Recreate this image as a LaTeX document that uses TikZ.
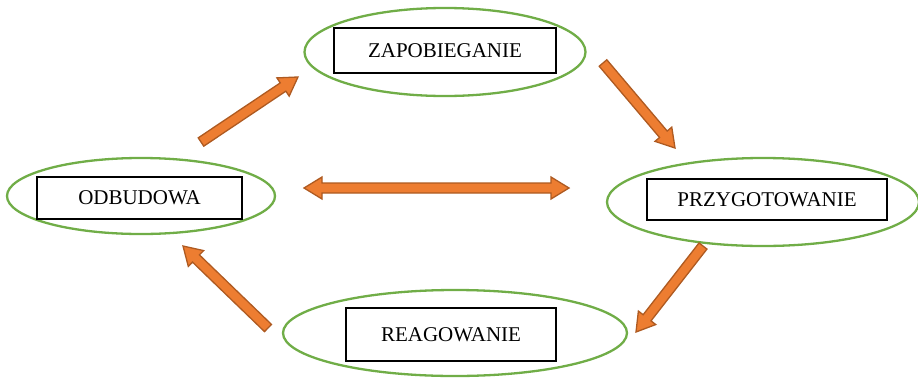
\documentclass[tikz,border=0pt]{standalone}
\usepackage{fontspec}
\setmainfont{Liberation Serif}
\usetikzlibrary{shapes.geometric,calc}
\definecolor{zielony}{HTML}{70AD47}
\definecolor{pomarancz}{HTML}{ED7D31}
\definecolor{brzeg}{HTML}{AE5A21}
\tikzset{
  owal/.style={draw=zielony,line width=2.3pt,ellipse,inner sep=0pt},
  ramka/.style={draw,line width=1.4pt,rectangle,inner sep=0pt,
    font=\fontsize{21}{25}\selectfont,text depth=0pt},
  strzalka/.style={fill=pomarancz,draw=brzeg,line width=1.3pt,line join=miter}
}
% block arrow from #1 to #2
\newcommand{\blok}[2]{%
  \coordinate (h) at ($(#2)!18pt!(#1)$);
  \filldraw[strzalka] ($(#1)!5pt!-90:(#2)$) -- ($(h)!5pt!-90:(#2)$)
    -- ($(h)!11pt!-90:(#2)$) -- (#2) -- ($(h)!11pt!90:(#2)$)
    -- ($(h)!5pt!90:(#2)$) -- ($(#1)!5pt!90:(#2)$) -- cycle;
}
% double block arrow between #1 and #2
\newcommand{\dwublok}[2]{%
  \coordinate (h1) at ($(#1)!18pt!(#2)$);
  \coordinate (h2) at ($(#2)!18pt!(#1)$);
  \filldraw[strzalka] (#1) -- ($(h1)!11pt!90:(#2)$) -- ($(h1)!5pt!90:(#2)$)
    -- ($(h2)!5pt!-90:(#1)$) -- ($(h2)!11pt!-90:(#1)$) -- (#2)
    -- ($(h2)!11pt!90:(#1)$) -- ($(h2)!5pt!90:(#1)$)
    -- ($(h1)!5pt!-90:(#2)$) -- ($(h1)!11pt!-90:(#2)$) -- cycle;
}
\begin{document}
\begin{tikzpicture}[x=1pt,y=-1pt]
\useasboundingbox (0,0) rectangle (918,378);
% ellipses
\node[owal,minimum width=281pt,minimum height=88pt] (zap) at (445,52) {};
\node[owal,minimum width=312pt,minimum height=88pt] (prz) at (763,202) {};
\node[owal,minimum width=268pt,minimum height=76pt] (odb) at (141,196) {};
\node[owal,minimum width=344pt,minimum height=86pt] (rea) at (455,333) {};
% boxes
\node[ramka,minimum width=222pt,minimum height=45pt] (zapt) at (445,50.5) {ZAPOBIEGANIE};
\node[ramka,minimum width=240pt,minimum height=41pt] (przt) at (767,199.5) {PRZYGOTOWANIE};
\node[ramka,minimum width=205pt,minimum height=42pt] (odbt) at (139.5,198) {ODBUDOWA};
\node[ramka,minimum width=210pt,minimum height=53pt] (reat) at (451,334.5) {REAGOWANIE};
% arrows
\coordinate (a1) at (201,142); \coordinate (b1) at (298,77);
\coordinate (a2) at (603,63);  \coordinate (b2) at (675,148);
\coordinate (a3) at (703,246); \coordinate (b3) at (636,332);
\coordinate (a4) at (268,328); \coordinate (b4) at (183,246);
\coordinate (a5) at (304,188); \coordinate (b5) at (569,188);
\blok{a1}{b1}
\blok{a2}{b2}
\blok{a3}{b3}
\blok{a4}{b4}
\dwublok{a5}{b5}
\end{tikzpicture}
\end{document}
